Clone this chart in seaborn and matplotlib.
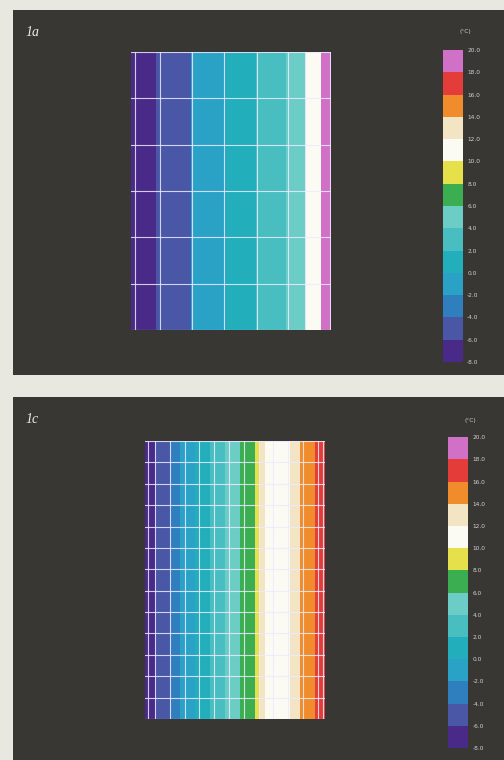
import numpy as np
import pandas as pd
import matplotlib
matplotlib.use("Agg")
import matplotlib.pyplot as plt
from matplotlib.colors import ListedColormap
import seaborn as sns

# legend bands, -8 .. 20 degC in steps of 2
band_edges = [-8, -6, -4, -2, 0, 2, 4, 6, 8, 10, 12, 14, 16, 18, 20]
band_colors = ['#4a2a88', '#4a56a6', '#2f7fbf', '#2aa2c6', '#22aebb', '#48bec0', '#6cccc6',
               '#3cae52', '#e6e04a', '#fbfbf3', '#f3e5c3', '#f08c2c', '#e43c38', '#d070c6']
tick_labels = ['%.1f' % v for v in band_edges]

# temperature across the section, one value per thin strip, left to right
temp_1a = [-7, -7, -7, -7, -7,
           -5, -5, -5, -5, -5, -5, -5,
           -1, -1, -1, -1, -1, -1, -1,
           1, 1, 1, 1, 1, 1,
           3, 3, 3, 3, 3, 3,
           5, 5, 5, 5,
           11, 11, 11,
           19, 19]
temp_1c = [-7, -7,
           -5, -5, -5,
           -3, -3,
           -1, -1, -1,
           1, 1, 1,
           3, 3, 3,
           5, 5, 5,
           7, 7, 7,
           9, 13,
           11, 11, 11, 11, 11,
           13, 13,
           15, 15, 15,
           17, 17]

# element mesh (strip units across, number of element rows down)
mesh_x_1a = [0.8, 5.8, 12.2, 18.6, 25.2, 31.4, 34.8, 39.8]
mesh_rows_1a = 6
mesh_x_1c = [0.6, 2.0, 4.96, 7.92, 10.88, 13.84, 16.8, 19.76, 22.72, 25.68, 28.64, 31.6, 34.56, 35.6]
mesh_rows_1c = 13

cmap = ListedColormap(band_colors)

fig = plt.figure(figsize=(5.04, 7.60), dpi=100)
fig.patch.set_facecolor('#e9e8e0')


def draw_panel(panel_box, heat_box, cbar_box, temps, mesh_x, mesh_rows, label, unit_y):
    # dark background panel
    bg = fig.add_axes(panel_box)
    bg.set_facecolor('#393734')
    bg.set_xticks([])
    bg.set_yticks([])
    for s in bg.spines.values():
        s.set_visible(False)
    bg.text(0.025, 0.955, label, transform=bg.transAxes, ha='left', va='top',
            family='Liberation Serif', style='italic', fontsize=10, color='#ececec')

    ax = fig.add_axes(heat_box)
    cax = fig.add_axes(cbar_box)
    df = pd.DataFrame([temps])
    sns.heatmap(df, ax=ax, cmap=cmap, vmin=-8, vmax=20, cbar_ax=cax,
                cbar_kws={'ticks': band_edges}, xticklabels=False, yticklabels=False)

    # mesh lines
    for x in mesh_x:
        ax.axvline(x, color='#ecebff', alpha=0.85, lw=0.8)
    for k in range(mesh_rows + 1):
        ax.axhline(k / mesh_rows, color='#ecebff', alpha=0.85, lw=0.8)

    cb = ax.collections[0].colorbar
    cb.outline.set_visible(False)
    cax.set_yticklabels(tick_labels)
    cax.tick_params(length=0, labelsize=4.2, colors='#d2d2d2', pad=3)
    fig.text(cbar_box[0] + 0.045, unit_y, '(°C)', fontsize=4.2, color='#d2d2d2',
             ha='center', va='center')


draw_panel([0.0258, 0.5066, 0.9742, 0.4803],
           [0.2599, 0.5658, 0.3968, 0.3658],
           [0.879, 0.5237, 0.0397, 0.4105],
           temp_1a, mesh_x_1a, mesh_rows_1a, '1a', 0.958)

draw_panel([0.0258, 0.0, 0.9742, 0.4776],
           [0.2877, 0.0539, 0.3571, 0.3658],
           [0.889, 0.0158, 0.0397, 0.4090],
           temp_1c, mesh_x_1c, mesh_rows_1c, '1c', 0.447)

fig.savefig('out.png', dpi=100, facecolor=fig.get_facecolor())
